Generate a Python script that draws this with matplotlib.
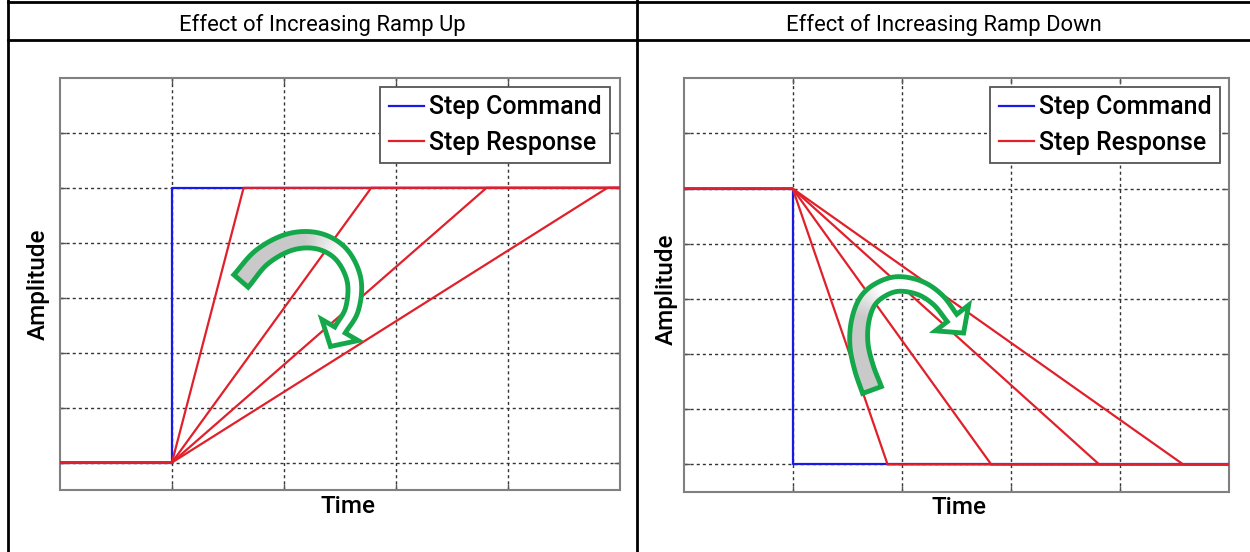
import numpy as np
import matplotlib
matplotlib.use("Agg")
import matplotlib.pyplot as plt
from matplotlib.lines import Line2D
from matplotlib.patches import Polygon
from matplotlib.collections import PolyCollection
from matplotlib.transforms import Affine2D

# ---------------- data ----------------
titles = ["Effect of Increasing Ramp Up", "Effect of Increasing Ramp Down"]
legend_labels = ["Step Command", "Step Response"]
x_label = "Time"
y_label = "Amplitude"
t_start = 0.0
t_step = 1.0
t_final = 5.0
level_low = 0.0
level_high = 1.0
ramp_up_end_times = [1.64, 2.78, 3.81, 4.89]
ramp_down_end_times = [1.87, 2.82, 3.81, 4.58]
grid_x = [1, 2, 3, 4]
grid_y = [0.0, 0.2, 0.4, 0.6, 0.8, 1.0, 1.2]
x_limits = (0.0, 5.0)
y_limits = (-0.1, 1.4)

# ---------------- style ----------------
W, H, DPI = 1250, 552, 100
FONT = "Roboto"
BLUE = "#1a1ae6"
RED = "#e0202a"
GREEN = "#14a84b"
LW = 1.6
plt.rcParams["font.family"] = [FONT, "DejaVu Sans"]

fig = plt.figure(figsize=(W / DPI, H / DPI), dpi=DPI)
fig.patch.set_facecolor("white")

# pixel (top-left origin) -> figure transform
PIX = Affine2D().scale(1.0 / W, -1.0 / H).translate(0, 1) + fig.transFigure


def px_axes(left, right, top, bottom):
    return [left / W, 1 - bottom / H, (right - left) / W, (bottom - top) / H]


def style_axes(ax):
    ax.set_xlim(*x_limits)
    ax.set_ylim(*y_limits)
    ax.set_xticks(grid_x)
    ax.set_yticks(grid_y)
    ax.tick_params(which="both", direction="in", length=4, width=1,
                   color="#555555", labelbottom=False, labelleft=False,
                   top=True, right=True)
    ax.grid(True, linestyle=(0, (2.2, 2.2)), color="#333333", linewidth=1.0)
    for s in ax.spines.values():
        s.set_color("#808080")
        s.set_linewidth(1.5)
    ax.set_axisbelow(True)


def add_legend(ax, anchor):
    handles = [Line2D([], [], color=BLUE, lw=LW), Line2D([], [], color=RED, lw=LW)]
    leg = ax.legend(handles, legend_labels, loc="upper right", bbox_to_anchor=anchor,
                    borderaxespad=0, prop={"family": FONT, "size": 18, "weight": "medium"},
                    handlelength=1.4, handletextpad=0.2, borderpad=0.35,
                    labelspacing=0.45, fancybox=False, framealpha=1)
    leg.get_frame().set_edgecolor("#555555")
    leg.get_frame().set_linewidth(1.3)


# ---------------- left panel: ramp up ----------------
axL = fig.add_axes(px_axes(60, 619.7, 78, 490))
style_axes(axL)
axL.plot([t_start, t_step, t_step, t_final], [level_low, level_low, level_high, level_high],
         color=BLUE, lw=LW, zorder=3)
for te in ramp_up_end_times:
    axL.plot([t_start, t_step, te, t_final], [level_low, level_low, level_high, level_high],
             color=RED, lw=LW, zorder=4)
add_legend(axL, (0.9827, 0.979))
axL.text(0.515, -0.041, x_label, transform=axL.transAxes, ha="center", va="center",
         fontsize=17.5, family=FONT, weight="medium")
axL.text(-0.039, 0.5, y_label, transform=axL.transAxes, ha="center", va="center",
         rotation=90, fontsize=17.5, family=FONT, weight="medium")

# ---------------- right panel: ramp down ----------------
axR = fig.add_axes(px_axes(683.6, 1229, 78.3, 492))
style_axes(axR)
axR.plot([t_start, t_step, t_step, t_final], [level_high, level_high, level_low, level_low],
         color=BLUE, lw=LW, zorder=3)
for te in ramp_down_end_times:
    axR.plot([t_start, t_step, te, t_final], [level_high, level_high, level_low, level_low],
             color=RED, lw=LW, zorder=4)
add_legend(axR, (0.9835, 0.98))
axR.text(0.505, -0.037, x_label, transform=axR.transAxes, ha="center", va="center",
         fontsize=17.5, family=FONT, weight="medium")
axR.text(-0.032, 0.49, y_label, transform=axR.transAxes, ha="center", va="center",
         rotation=90, fontsize=17.5, family=FONT, weight="medium")

# ---------------- table frame and headers ----------------
for (x0, y0, x1, y1) in [(8, 0, 8, H), (637, 0, 637, H), (8, 2, W, 2), (8, 40, W, 40)]:
    fig.add_artist(Line2D([x0, x1], [y0, y1], color="black", lw=2, transform=PIX))
fig.text(322.5, 30.5, titles[0], transform=PIX, ha="center", va="baseline",
         fontsize=15.8, family=FONT)
fig.text(943.5, 30.5, titles[1], transform=PIX, ha="center", va="baseline",
         fontsize=15.8, family=FONT)


# ---------------- curved annotation arrows ----------------
def catmull(points, n=40):
    P = np.array(points, float)
    P = np.vstack([2 * P[0] - P[1], P, 2 * P[-1] - P[-2]])
    out = []
    for i in range(1, len(P) - 2):
        p0, p1, p2, p3 = P[i - 1], P[i], P[i + 1], P[i + 2]
        for t in np.linspace(0, 1, n, endpoint=False):
            t2, t3 = t * t, t * t * t
            out.append(0.5 * (2 * p1 + (-p0 + p2) * t + (2 * p0 - 5 * p1 + 4 * p2 - p3) * t2
                              + (-p0 + 3 * p1 - 3 * p2 + p3) * t3))
    out.append(P[-2])
    return np.array(out)


def block_arrow(points, w0, w1, head_hw, head_len):
    c = catmull(points)
    d = np.gradient(c, axis=0)
    d /= np.linalg.norm(d, axis=1)[:, None]
    nrm = np.column_stack([-d[:, 1], d[:, 0]])
    s = np.linspace(0, 1, len(c))
    w = (w0 + (w1 - w0) * s)[:, None] / 2
    a = c + nrm * w
    b = c - nrm * w
    quads, cols = [], []
    gray = np.array([0.79, 0.79, 0.79])
    for i in range(len(c) - 1):
        quads.append([a[i], a[i + 1], b[i + 1], b[i]])
        f = np.clip((s[i] - 0.36) / 0.2, 0, 1)
        cols.append(tuple(gray + (1 - gray) * f))
    pc = PolyCollection(quads, facecolors=cols, edgecolors=cols, linewidths=0.5,
                        transform=PIX, zorder=20)
    fig.add_artist(pc)
    E, dE, nE = c[-1], d[-1], nrm[-1]
    head = [E + nE * head_hw, E + dE * head_len, E - nE * head_hw]
    fig.add_artist(Polygon(head, closed=True, facecolor="white", edgecolor="none",
                           transform=PIX, zorder=20))
    outline = np.vstack([a, head, b[::-1]])
    fig.add_artist(Polygon(outline, closed=True, facecolor="none", edgecolor=GREEN,
                           lw=3.5, joinstyle="miter", transform=PIX, zorder=21))


block_arrow([(241, 281), (262, 257), (290, 242), (318, 241), (341, 254),
             (354, 280), (352, 309), (340, 330)], 19, 12, 21, 19)
block_arrow([(872, 390), (864, 368), (859, 345), (860, 322), (867, 302), (880, 290),
             (898, 284), (920, 288), (938, 300), (952, 318)], 20, 12, 21, 19)

fig.savefig("out.png", dpi=DPI, facecolor="white")
